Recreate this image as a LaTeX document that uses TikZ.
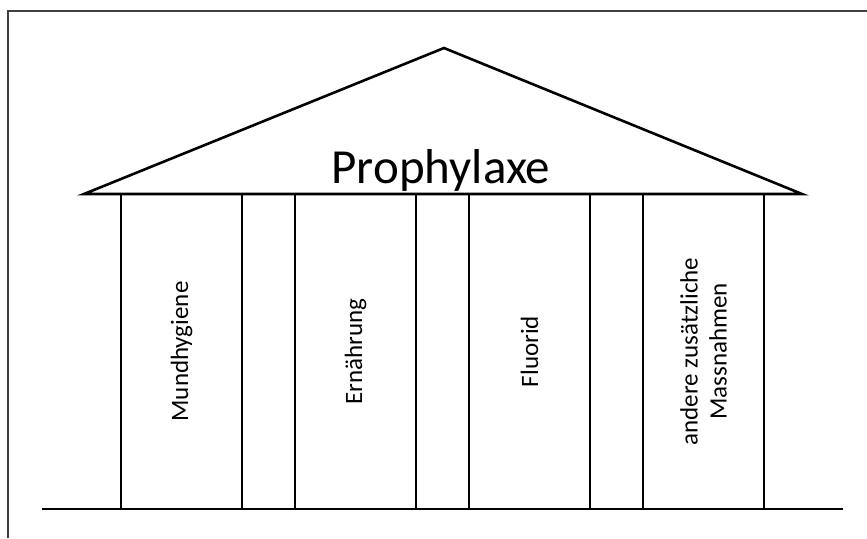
\documentclass[tikz,border=0pt]{standalone}
\usepackage{fontspec}
\setmainfont{Carlito}
\begin{document}
\begin{tikzpicture}[
		x=1pt, y=-1pt,
		every node/.style={font=\fontsize{25}{29}\selectfont},
		pillar/.style={rectangle, draw, line width=2.6pt, rotate=90, minimum width=315pt, minimum height=121pt, inner sep=0pt, align=center}
	]
		\useasboundingbox (0,0) rectangle (867,538);
		% frame
		\draw[line width=1.5pt, black!75] (8,538) -- (8,11) -- (867,11);
		
		% roof
		\coordinate (top) at (444,48);
		\coordinate (eaveL) at (84,194);
		\coordinate (eaveR) at (802,194);
		\draw[line width=2.6pt, line join=miter] (eaveL) -- (top) -- (eaveR) -- cycle;
		\node[font=\fontsize{49}{56}\selectfont, anchor=base] (title) at (441,183) {Prophylaxe};
		
		% pillars
		\node[pillar] (p1) at (181.5,351.5) {Mundhygiene};
		\node[pillar] (p2) at (355.5,351.5) {Ernährung};
		\node[pillar] (p3) at (529.5,351.5) {Fluorid};
		\node[pillar] (p4) at (703.5,351.5) {andere zusätzliche\\Massnahmen};
		
		% ground
		\coordinate (gL) at (42,509);
		\coordinate (gR) at (843,509);
		\draw[line width=2.6pt] (gL) -- (gR);
	\end{tikzpicture}
\end{document}
